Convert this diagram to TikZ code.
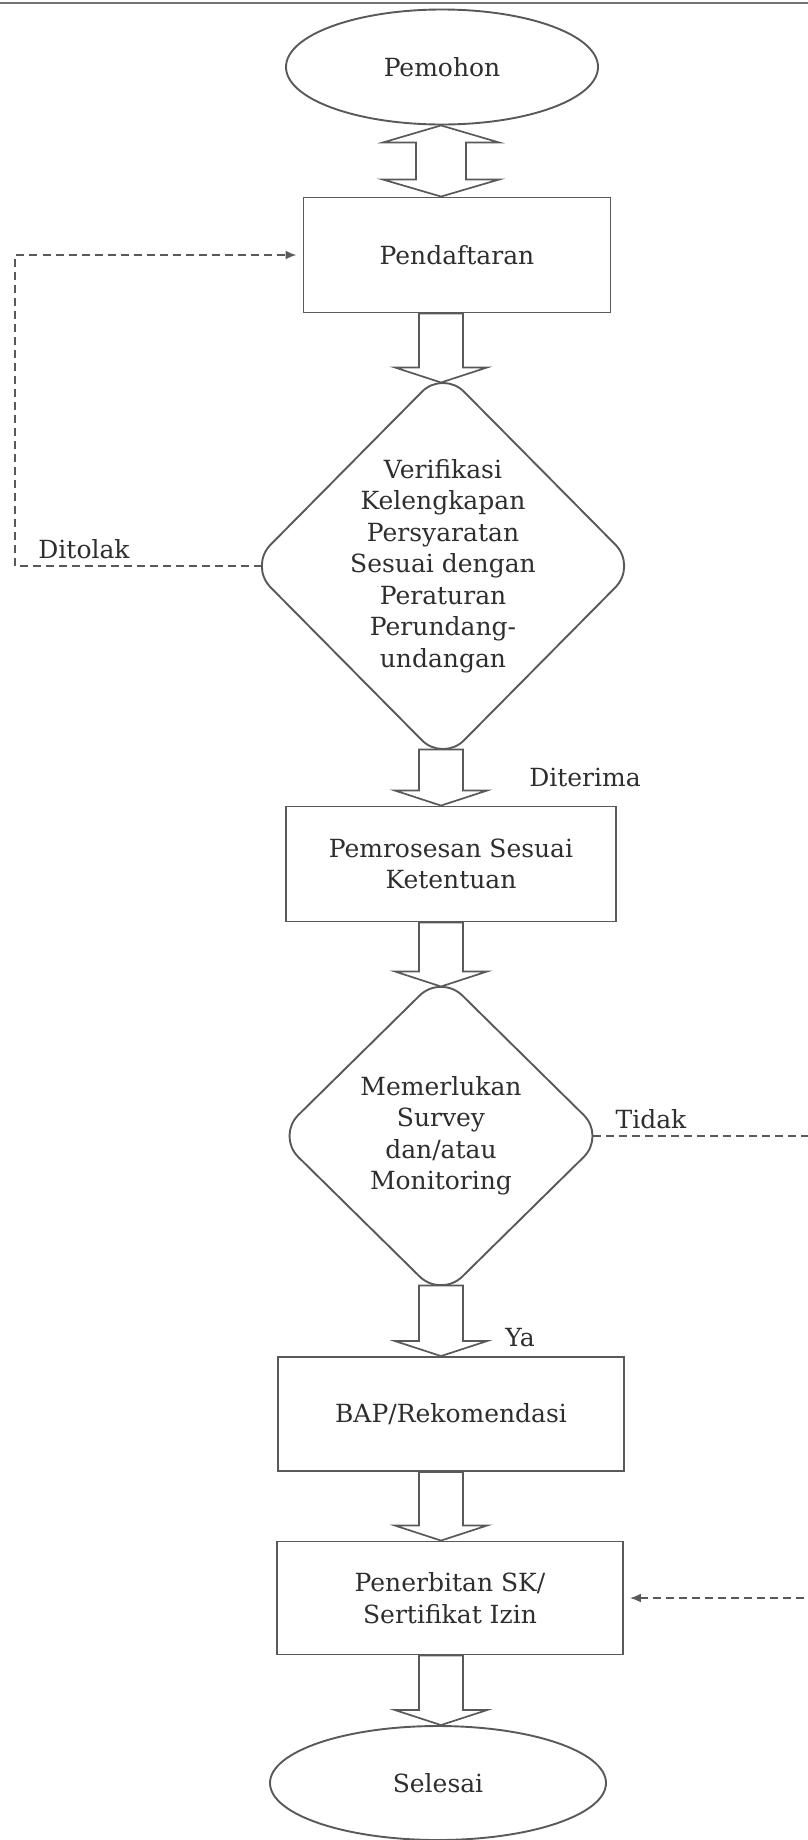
\documentclass[tikz,border=0pt]{standalone}
\usepackage{fontspec}
\setmainfont{DejaVu Serif}
\usetikzlibrary{shapes.geometric,calc,arrows.meta}

\newcommand{\blockarrow}[2]{%
  \path[blockarrow] let \p1=(#1), \p2=(#2) in
    (\x1-22pt,\y1) -- (\x1+22pt,\y1) -- (\x1+22pt,\y2+15pt) -- (\x1+46pt,\y2+15pt)
    -- (\x1,\y2) -- (\x1-46pt,\y2+15pt) -- (\x1-22pt,\y2+15pt) -- cycle;}
\newcommand{\dblarrow}[2]{%
  \path[blockarrow] let \p1=(#1), \p2=(#2) in
    (\x1,\y1) -- (\x1+58pt,\y1-17pt) -- (\x1+25pt,\y1-17pt) -- (\x1+25pt,\y2+17pt)
    -- (\x1+58pt,\y2+17pt) -- (\x1,\y2) -- (\x1-58pt,\y2+17pt) -- (\x1-25pt,\y2+17pt)
    -- (\x1-25pt,\y1-17pt) -- (\x1-58pt,\y1-17pt) -- cycle;}

\begin{document}
\begin{tikzpicture}[x=1pt, y=-1pt, color=black!65, line width=1.9pt,
        every node/.style={text=black!82, font=\fontsize{25}{31.5}\selectfont},
        terminal/.style={draw, ellipse, inner sep=0pt},
        process/.style={draw, rectangle, inner sep=0pt, align=center},
        decision/.style={draw, diamond, rounded corners=30pt, inner sep=0pt, outer sep=-8.5pt},
        blockarrow/.style={draw, fill=white, line width=1.7pt, line join=miter},
        loopline/.style={dash pattern=on 8pt off 5pt, -{Latex[length=11pt,width=9pt]}, shorten >=6pt},
        lbl/.style={inner sep=0pt}]
    \useasboundingbox (0,0) rectangle (808,1840);
    \draw[line width=1.6pt, black!55] (0,3) -- (808,3);

    \coordinate (axis) at (441,0);
    \coordinate (backL) at (15,0);
    \coordinate (backR) at (812,0);

    \node[terminal, minimum width=312pt, minimum height=115pt] (pemohon) at (442,67) {Pemohon};
    \node[process, minimum width=307pt, minimum height=115pt] (pendaftaran) at (457,255) {Pendaftaran};
    \node[decision, minimum width=380pt, minimum height=384pt,
        label={[align=center]center:{Verifikasi\\Kelengkapan\\Persyaratan\\Sesuai dengan\\Peraturan\\Perundang-\\undangan}}]
        (verif) at (443,566) {};
    \node[process, minimum width=330pt, minimum height=115pt] (pemrosesan) at (451,864) {Pemrosesan Sesuai\\Ketentuan};
    \node[decision, minimum width=321pt, minimum height=316pt,
        label={[align=center]center:{Memerlukan\\Survey\\dan/atau\\Monitoring}}]
        (survey) at (441,1136) {};
    \node[process, minimum width=346pt, minimum height=114pt] (bap) at (451,1414) {BAP/Rekomendasi};
    \node[process, minimum width=346pt, minimum height=113pt] (penerbitan) at (450,1598) {Penerbitan SK/\\Sertifikat Izin};
    \node[terminal, minimum width=336pt, minimum height=114pt] (selesai) at (438,1783) {Selesai};

    \dblarrow{pemohon.south -| axis}{pendaftaran.north -| axis}
    \blockarrow{pendaftaran.south -| axis}{verif.north -| axis}
    \blockarrow{verif.south -| axis}{pemrosesan.north -| axis}
    \blockarrow{pemrosesan.south -| axis}{survey.north -| axis}
    \blockarrow{survey.south -| axis}{bap.north -| axis}
    \blockarrow{bap.south -| axis}{penerbitan.north -| axis}
    \blockarrow{penerbitan.south -| axis}{selesai.north -| axis}

    % dashed return paths
    \draw[loopline] (verif.west) -- (verif.west -| backL) -- (backL |- pendaftaran.west) -- (pendaftaran.west);
    \draw[loopline] (survey.east) -- (survey.east -| backR) -- (backR |- penerbitan.east) -- (penerbitan.east);

    \node[lbl] (ditolak) at (84,549) {Ditolak};
    \node[lbl] (diterima) at (585,777) {Diterima};
    \node[lbl] (tidak) at (651,1119) {Tidak};
    \node[lbl] (ya) at (520,1338) {Ya};
\end{tikzpicture}
\end{document}
